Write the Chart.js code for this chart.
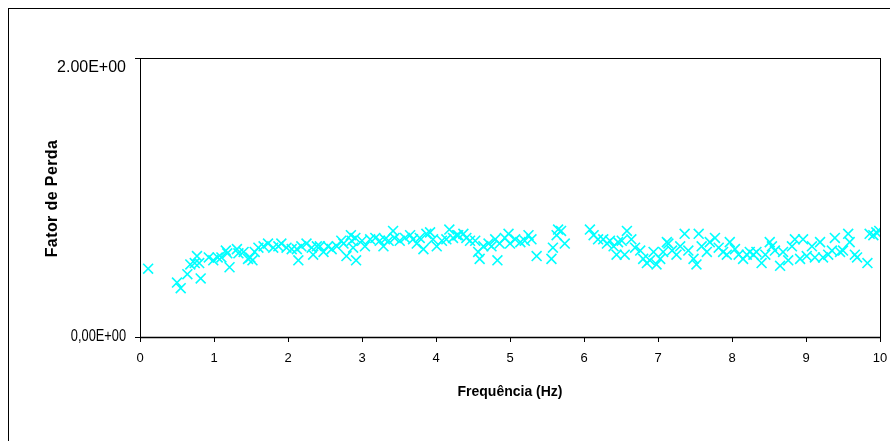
<!DOCTYPE html>
<html>
<head>
<meta charset="utf-8">
<script src="https://cdn.jsdelivr.net/npm/chart.js@4.4.1/dist/chart.umd.min.js"></script>
<style>
  html, body { margin: 0; padding: 0; background: #fff; }
  #wrap { position: relative; width: 890px; height: 441px; }
  #frame { position: absolute; left: 8px; top: 8px; width: 890px; height: 460px; border-left: 1px solid #000; border-top: 1px solid #000; box-sizing: border-box; pointer-events: none; }
  canvas { position: absolute; left: 0; top: 0; }
</style>
</head>
<body>
<div id="wrap">
  <canvas id="c" width="890" height="441"></canvas>
  <div id="frame"></div>
</div>
<script>
const freq = [0.11,0.50,0.55,0.64,0.68,0.74,0.77,0.80,0.82,0.93,0.99,1.05,1.10,1.16,1.18,1.21,1.31,1.33,1.40,1.46,
  1.49,1.52,1.55,1.60,1.67,1.73,1.80,1.87,1.91,1.98,2.05,2.12,2.14,2.18,2.25,2.32,2.34,2.39,2.43,2.48,2.54,2.59,2.66,2.72,2.75,2.79,2.85,2.86,
  2.88,2.91,2.92,3.00,3.04,3.11,3.18,3.24,3.29,3.31,3.36,3.42,3.44,3.51,3.58,3.65,3.69,3.74,3.78,3.83,3.87,3.92,3.96,4.01,4.08,4.14,4.18,4.23,4.28,
  4.30,4.37,4.41,4.46,4.53,4.57,4.59,4.64,4.71,4.75,4.80,4.83,4.86,4.93,4.98,5.00,5.07,5.14,5.20,5.25,5.29,5.36,5.56,5.58,5.63,5.65,
  5.69,5.74,6.08,6.13,6.19,6.26,6.31,6.35,6.40,6.44,6.46,6.51,6.55,6.58,6.64,6.69,6.76,6.80,6.85,6.89,6.94,6.98,7.03,7.07,7.12,
  7.14,7.19,7.25,7.30,7.36,7.41,7.48,7.52,7.55,7.59,7.66,7.70,7.77,7.82,7.88,7.93,7.97,8.04,8.09,8.15,8.20,8.24,8.29,8.33,8.40,8.45,8.51,
  8.54,8.58,8.65,8.69,8.76,8.81,8.85,8.92,8.96,9.01,9.08,9.12,9.19,9.23,9.30,9.35,9.39,9.46,9.50,9.57,9.59,9.66,9.69,9.83,9.86,9.91,9.95,9.99];
const fatorPerda = [0.49,0.39,0.35,0.45,0.52,0.53,0.58,0.53,0.42,0.57,0.55,0.57,0.57,0.62,0.60,0.50,0.63,0.60,0.61,0.56,
  0.57,0.55,0.61,0.64,0.65,0.67,0.64,0.65,0.67,0.64,0.63,0.63,0.55,0.65,0.67,0.64,0.59,0.65,0.65,0.61,0.65,0.63,0.65,0.69,0.67,0.58,0.73,0.69,
  0.64,0.71,0.55,0.69,0.65,0.70,0.71,0.69,0.65,0.70,0.69,0.76,0.71,0.69,0.71,0.73,0.70,0.67,0.71,0.63,0.74,0.75,0.70,0.65,0.69,0.70,0.77,0.71,0.73,
  0.73,0.74,0.71,0.69,0.69,0.61,0.56,0.65,0.67,0.65,0.70,0.55,0.67,0.71,0.74,0.67,0.70,0.68,0.69,0.73,0.70,0.58,0.56,0.64,0.73,0.77,
  0.76,0.67,0.77,0.73,0.70,0.70,0.67,0.69,0.65,0.59,0.68,0.69,0.59,0.76,0.70,0.64,0.62,0.56,0.53,0.55,0.61,0.52,0.56,0.61,0.68,
  0.67,0.62,0.59,0.65,0.74,0.62,0.56,0.52,0.74,0.65,0.61,0.68,0.71,0.64,0.61,0.59,0.68,0.63,0.59,0.56,0.59,0.61,0.59,0.61,0.53,0.59,0.68,
  0.65,0.62,0.51,0.61,0.55,0.65,0.70,0.56,0.70,0.58,0.65,0.57,0.68,0.57,0.59,0.62,0.71,0.61,0.62,0.74,0.68,0.59,0.57,0.53,0.74,0.73,0.75,0.76];
const xTicks = [0,1,2,3,4,5,6,7,8,9,10];
const yTicks = [0, 2];
const yTickLabels = {0: "0,00E+00", 2: "2.00E+00"};
const xTitle = "Frequência (Hz)";
const yTitle = "Fator de Perda";

const points = freq.map((f, i) => ({x: f, y: fatorPerda[i]}));

// horizontally compress text drawn by a scale
function withScaledText(ctx, fn, factorFor) {
  const orig = CanvasRenderingContext2D.prototype.fillText;
  ctx.fillText = function (t, x, y, mw) {
    const f = factorFor(String(t));
    this.save();
    this.translate(x, y);
    this.scale(f, 1);
    if (mw === undefined || mw === null) orig.call(this, t, 0, 0);
    else orig.call(this, t, 0, 0, mw / f);
    this.restore();
  };
  try { fn(); } finally { delete ctx.fillText; }
}

const boxPlugin = {
  id: 'box',
  beforeDraw(chart) {
    const ys = chart.scales.y;
    if (ys && !ys._patched) {
      const dl = ys.drawLabels.bind(ys);
      ys.drawLabels = (a) => withScaledText(ys.ctx, () => dl(a), (t) => t.indexOf(',') >= 0 ? 0.8 : 1);
      ys._patched = true;
    }
  },
  afterDraw(chart) {
    const {ctx, chartArea: a} = chart;
    ctx.save();
    ctx.strokeStyle = '#000';
    ctx.lineWidth = 1;
    ctx.strokeRect(Math.round(a.left) + 0.5, Math.round(a.top) + 0.5, Math.round(a.right - a.left), Math.round(a.bottom - a.top));
    ctx.lineWidth = 1.5;
    ctx.beginPath();
    ctx.moveTo(a.left, Math.round(a.bottom) + 0.5);
    ctx.lineTo(a.right + 1, Math.round(a.bottom) + 0.5);
    ctx.stroke();
    // y axis title
    ctx.font = 'bold 16px "Liberation Sans", Arial, sans-serif';
    ctx.fillStyle = '#000';
    try { ctx.letterSpacing = '0.4px'; } catch (e) {}
    ctx.translate(57, (a.top + a.bottom) / 2 + 1);
    ctx.rotate(-Math.PI / 2);
    ctx.textAlign = 'center';
    ctx.textBaseline = 'alphabetic';
    ctx.fillText(yTitle, 0, 0);
    ctx.restore();
  }
};

new Chart(document.getElementById('c'), {
  type: 'scatter',
  data: {
    datasets: [{
      data: points,
      pointStyle: 'crossRot',
      pointRadius: 7,
      pointHoverRadius: 7,
      borderColor: '#00FFFF',
      backgroundColor: '#00FFFF',
      pointBorderWidth: 1.6,
      showLine: false
    }]
  },
  options: {
    responsive: false,
    animation: false,
    devicePixelRatio: 1,
    layout: { padding: { left: 0, top: 58, right: 10, bottom: 0 } },
    plugins: { legend: { display: false }, tooltip: { enabled: false } },
    scales: {
      x: {
        type: 'linear', min: 0, max: 10,
        afterFit(s) { s.height = 104; s.paddingRight = 0; s.paddingLeft = 0; },
        afterBuildTicks(s) { s.ticks = xTicks.map(v => ({value: v})); },
        grid: { display: true, drawOnChartArea: false, drawTicks: true, tickLength: 5, color: '#000', tickColor: '#000', tickWidth: 1 },
        border: { display: false },
        ticks: { color: '#000', padding: 9, maxRotation: 0, autoSkip: false, font: { family: '"Liberation Sans", Arial', size: 13 } },
        title: { display: true, text: xTitle, color: '#000', padding: { top: 0, bottom: 40 }, font: { family: '"Liberation Sans", Arial', size: 14, weight: 'bold' } }
      },
      y: {
        type: 'linear', min: 0, max: 2,
        afterFit(s) { s.width = 140; },
        afterBuildTicks(s) { s.ticks = yTicks.map(v => ({value: v})); },
        grid: { display: true, drawOnChartArea: false, drawTicks: true, tickLength: 5, color: '#000', tickColor: '#000', tickWidth: 1 },
        border: { display: false },
        ticks: { color: '#000', padding: 9, autoSkip: false, font: { family: '"Liberation Sans", Arial', size: 16 },
                 callback: (v) => v === 2 ? ['', yTickLabels[v]] : yTickLabels[v] },
        title: { display: false }
      }
    }
  },
  plugins: [boxPlugin]
});
</script>
</body>
</html>
